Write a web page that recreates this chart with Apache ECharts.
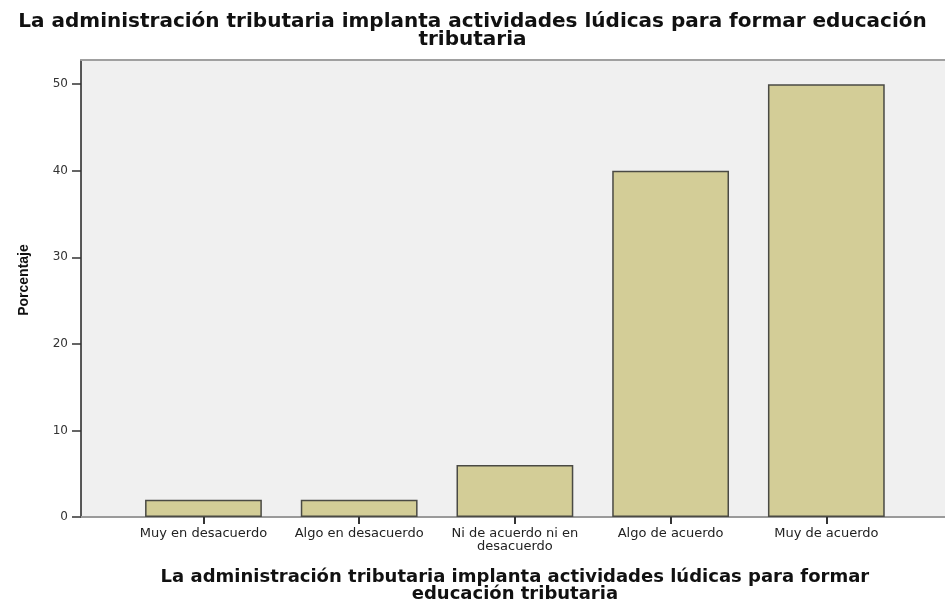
<!DOCTYPE html>
<html>
<head>
<meta charset="utf-8">
<script src="https://cdn.jsdelivr.net/npm/echarts@6/dist/echarts.min.js"></script>
<style>
  html, body { margin: 0; padding: 0; background: #fff; }
  #chart { width: 945px; height: 603px; }
</style>
</head>
<body>
<div id="chart"></div>
<script>
const categories = ['Muy en desacuerdo', 'Algo en desacuerdo', 'Ni de acuerdo ni en\ndesacuerdo', 'Algo de acuerdo', 'Muy de acuerdo']
const percentages = [2, 2, 6, 40, 50]
const chartTitle = 'La administración tributaria implanta actividades lúdicas para formar educación\ntributaria'
const xTitle = 'La administración tributaria implanta actividades lúdicas para formar\neducación tributaria'
const yTitle = 'Porcentaje'

const yMax = 52.8
const font = 'DejaVu Sans, Liberation Sans, sans-serif'

let myChart = echarts.init(document.getElementById('chart'))
myChart.setOption({
  backgroundColor: '#ffffff',
  animation: false,
  title: {
    text: chartTitle,
    left: 'center',
    top: 8,
    textStyle: {
      fontFamily: font,
      fontSize: 20,
      fontWeight: 'bold',
      color: '#111',
      lineHeight: 18
    }
  },
  grid: [
    {
      // plot background and y axis
      left: 81,
      right: 0,
      top: 60,
      bottom: 86,
      outerBoundsMode: 'none',
      show: true,
      backgroundColor: '#f0f0f0',
      borderWidth: 0
    },
    {
      // bars, inset like the spss category axis
      left: 125.6,
      right: 40.8,
      top: 60,
      bottom: 86,
      outerBoundsMode: 'none'
    }
  ],
  xAxis: [
    {
      gridIndex: 0,
      type: 'value',
      min: 0,
      max: 1,
      position: 'bottom',
      axisLine: { show: true, lineStyle: { color: '#9a9a9a', width: 2 } },
      axisTick: { show: false },
      axisLabel: { show: false },
      splitLine: { show: false }
    },
    {
      gridIndex: 0,
      type: 'value',
      min: 0,
      max: 1,
      position: 'top',
      axisLine: { show: true, lineStyle: { color: '#a0a0a0', width: 2 } },
      axisTick: { show: false },
      axisLabel: { show: false },
      splitLine: { show: false }
    },
    {
      gridIndex: 1,
      type: 'category',
      data: categories,
      axisLine: { show: false },
      axisTick: {
        show: true,
        alignWithLabel: true,
        length: 7,
        lineStyle: { color: '#333', width: 2 }
      },
      axisLabel: {
        fontFamily: font,
        fontSize: 13,
        color: '#222',
        margin: 10,
        lineHeight: 13,
        interval: 0
      },
      name: xTitle,
      nameLocation: 'middle',
      nameGap: 52,
      nameTextStyle: {
        fontFamily: font,
        fontSize: 18,
        fontWeight: 'bold',
        color: '#111',
        lineHeight: 17
      },
      splitLine: { show: false }
    }
  ],
  yAxis: [
    {
      gridIndex: 0,
      type: 'value',
      min: 0,
      max: yMax,
      interval: 10,
      axisLine: { show: true, lineStyle: { color: '#222', width: 1.5 } },
      axisTick: { show: true, length: 9, lineStyle: { color: '#333', width: 1.5 } },
      axisLabel: {
        fontFamily: font,
        fontSize: 12,
        color: '#333',
        margin: 13,
        showMaxLabel: false
      },
      splitLine: { show: false },
      name: yTitle,
      nameLocation: 'middle',
      nameGap: 50,
      nameTextStyle: {
        fontFamily: 'Liberation Sans, Arial, sans-serif',
        fontSize: 14,
        fontWeight: 'bold',
        color: '#111',
        padding: [0, 0, 0, 17]
      }
    },
    {
      gridIndex: 1,
      type: 'value',
      min: 0,
      max: yMax,
      show: false
    }
  ],
  series: [
    {
      type: 'bar',
      xAxisIndex: 2,
      yAxisIndex: 1,
      data: percentages,
      barWidth: '75%',
      itemStyle: {
        color: '#d3cd97',
        borderColor: '#4a4a44',
        borderWidth: 1.5
      }
    }
  ]
})
</script>
</body>
</html>
